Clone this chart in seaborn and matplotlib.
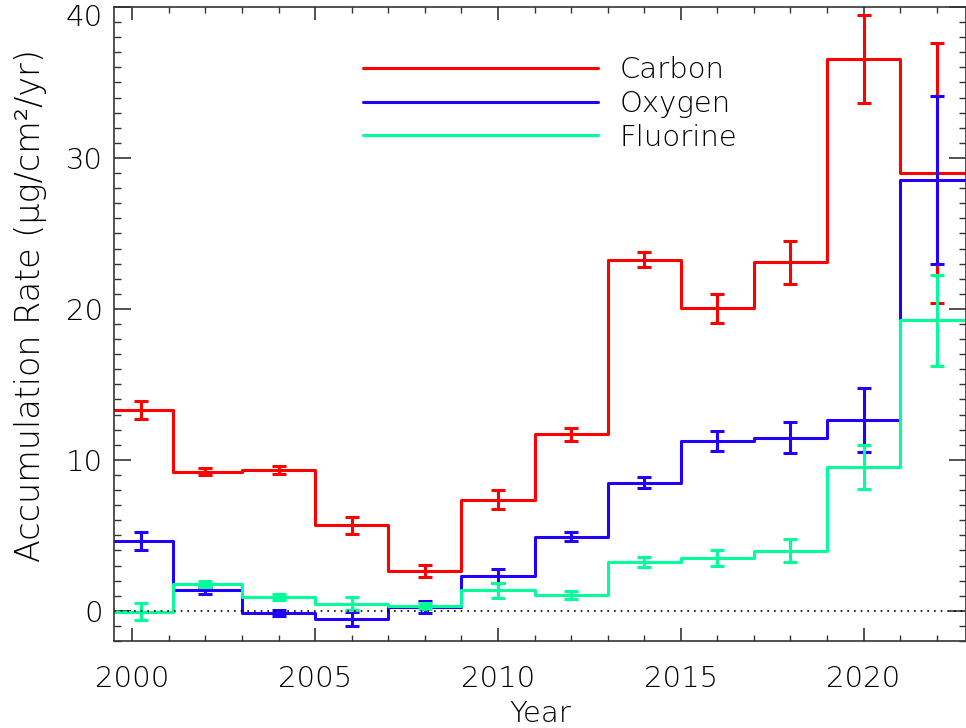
import numpy as np
import pandas as pd
import seaborn as sns
import matplotlib.pyplot as plt
from matplotlib.transforms import ScaledTranslation

# bin edges (years) and bin centres used for the error bars
edges = [1999.0, 2001.1, 2003, 2005, 2007, 2009, 2011, 2013, 2015, 2017, 2019, 2021, 2024.0]
centers = [2000.25, 2002, 2004, 2006, 2008, 2010, 2012, 2014, 2016, 2018, 2020, 2022]

carbon = [13.3, 9.22, 9.32, 5.67, 2.63, 7.37, 11.7, 23.27, 20.04, 23.08, 36.54, 29.02]
carbon_err = [0.6, 0.25, 0.25, 0.55, 0.4, 0.63, 0.42, 0.52, 0.97, 1.42, 2.93, 8.6]

oxygen = [4.65, 1.35, -0.13, -0.53, 0.25, 2.30, 4.92, 8.5, 11.26, 11.48, 12.63, 28.53]
oxygen_err = [0.6, 0.25, 0.2, 0.47, 0.38, 0.47, 0.29, 0.37, 0.66, 1.0, 2.14, 5.55]

fluorine = [-0.05, 1.77, 0.91, 0.47, 0.35, 1.37, 1.05, 3.23, 3.48, 3.98, 9.54, 19.25]
fluorine_err = [0.58, 0.22, 0.21, 0.43, 0.2, 0.5, 0.27, 0.31, 0.52, 0.75, 1.47, 3.02]

names = ["Carbon", "Oxygen", "Fluorine"]
colors = ["#ff0000", "#2200ff", "#00ff99"]

sns.set_style("ticks")
plt.rcParams['font.family'] = ['DejaVu Sans']
plt.rcParams['font.weight'] = 'light'
plt.rcParams['axes.labelweight'] = 'light'
plt.rcParams['axes.labelcolor'] = 'black'
plt.rcParams['text.color'] = 'black'

fig = plt.figure(figsize=(9.66, 7.28), dpi=100)
ax = fig.add_axes([114 / 966, 1 - 641 / 728, 852 / 966, 634 / 728])

series = [(carbon, carbon_err), (oxygen, oxygen_err), (fluorine, fluorine_err)]
for name, col, (vals, errs) in zip(names, colors, series):
    steps = pd.DataFrame({"year": edges, "rate": vals + [vals[-1]]})
    sns.lineplot(data=steps, x="year", y="rate", drawstyle="steps-post",
                 color=col, lw=2.2, ax=ax, label=name, sort=False)
    ax.errorbar(centers, vals, yerr=errs, fmt="none", ecolor=col,
                elinewidth=2.2, capsize=5, capthick=2.2)

ax.axhline(0, color="black", lw=1.2, ls=(0, (1, 3)))

ax.set_xlim(1999.5, 2022.8)
ax.set_ylim(-2, 40)
ax.set_xticks([2000, 2005, 2010, 2015, 2020])
ax.set_xticks(np.arange(2000, 2023), minor=True)
ax.set_yticks([0, 10, 20, 30, 40])
ax.set_yticks(np.arange(-2, 41), minor=True)

ax.tick_params(which="both", direction="in", top=True, right=True,
               colors="#333333", labelcolor="black", labelsize=21)
ax.tick_params(axis="x", which="major", length=9.5, width=1.2, pad=17)
ax.tick_params(axis="x", which="minor", length=4.5, width=1.0)
ax.tick_params(axis="y", which="major", length=12.5, width=1.2, pad=8)
ax.tick_params(axis="y", which="minor", length=5, width=1.0)
for sp in ax.spines.values():
    sp.set_color("#333333")
    sp.set_linewidth(1.2)

# keep the top label inside the figure, as in the original
fig.canvas.draw()
top_lab = ax.get_yticklabels()[-1]
top_lab.set_transform(top_lab.get_transform() + ScaledTranslation(0, -8 / 100, fig.dpi_scale_trans))

ax.set_xlabel("Year", fontsize=21, labelpad=5, color="black")
ax.set_ylabel("Accumulation Rate (μg/cm²/yr)", fontsize=24, color="black")
ax.yaxis.set_label_coords((47 - 114) / 852, (641 - 305) / 634)

ax.legend(loc="upper left", bbox_to_anchor=((363 - 114) / 852, (641 - 56) / 634),
          frameon=False, fontsize=21, handlelength=8.05, handletextpad=0.75,
          labelspacing=0.2, borderpad=0, borderaxespad=0, labelcolor="black")

fig.savefig("out.png", dpi=100)
